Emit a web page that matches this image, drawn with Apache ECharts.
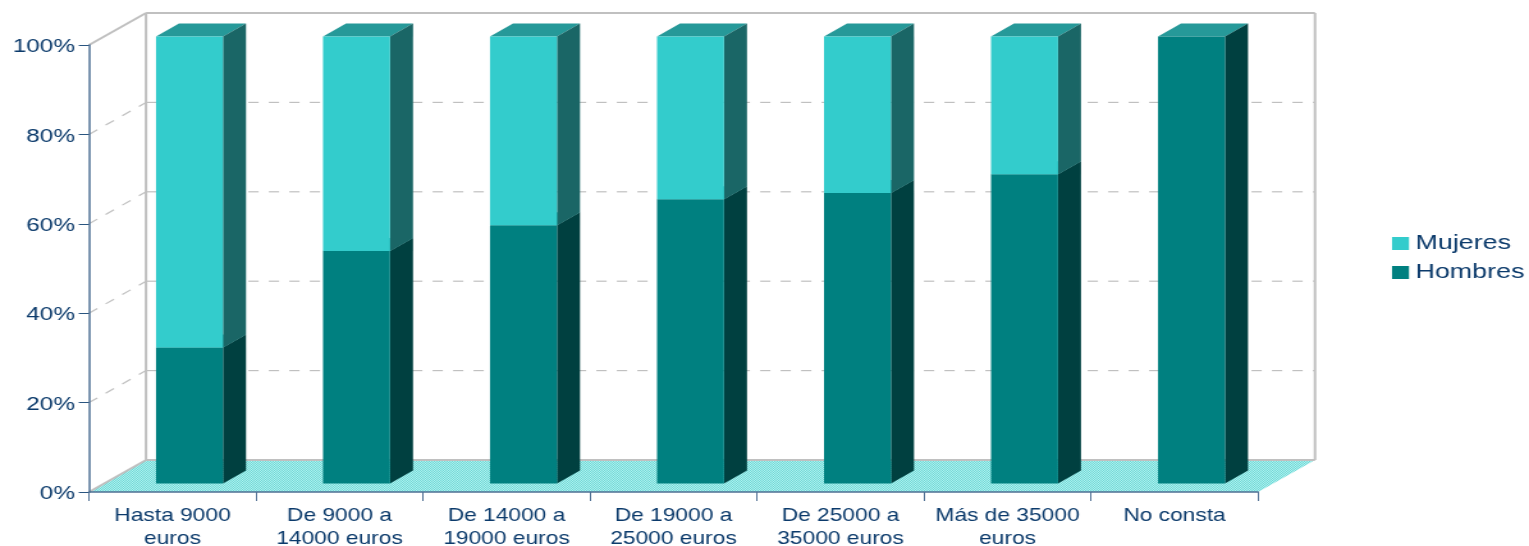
<!DOCTYPE html>
<html>
<head>
<meta charset="utf-8">
<title>Hombres y mujeres por tramo salarial</title>
<style>
    html, body { margin: 0; padding: 0; background: #fff; overflow: hidden; }
    /* the reference is a chart stretched sideways, text included */
    #chart { width: 1195px; height: 546px; transform-origin: 0 0; transform: scaleX(1.27950); }
</style>
<script src="https://cdn.jsdelivr.net/npm/echarts@6/dist/echarts.min.js"></script>
</head>
<body>
<div id="chart"></div>
<script>
    const categories = ['Hasta 9000\neuros', 'De 9000 a\n14000 euros', 'De 14000 a\n19000 euros', 'De 19000 a\n25000 euros', 'De 25000 a\n35000 euros', 'Más de 35000\neuros', 'No consta'];
    const hombres = [30.4, 52, 57.8, 63.6, 65, 69.2, 100];
    const mujeres = [69.6, 48, 42.2, 36.4, 35, 30.8, 0];
    const wallTicks = [0, 20, 40, 60, 80, 100];

    const sx = 1529 / 1195;
    const textColor = '#0b3a6b';
    const axisColor = '#4f7094';
    const tickColor = '#2a5580';
    const wallColor = '#c0c0c0';

    // offsets are in screen pixels, so they are divided by the stretch
    const wallDx = 57 / sx, wallDy = -32;
    const barDx = 17 / sx, barDy = -8.5;
    const depthDx = 23 / sx, depthDy = -13;
    const barWidth = 67 / sx;

    function floorPattern() {
        let c = document.createElement('canvas');
        c.width = 2;
        c.height = 2;
        let ctx = c.getContext('2d');
        ctx.fillStyle = '#b4f0ee';
        ctx.fillRect(0, 0, 2, 2);
        ctx.fillStyle = '#6cdad8';
        ctx.fillRect(0, 0, 1, 1);
        ctx.fillRect(1, 1, 1, 1);
        return {image: c, repeat: 'repeat'};
    }
    const floorFill = floorPattern();

    function renderWall(params, api) {
        let v = api.value(0);
        let band = api.size([1, 0])[0];
        let left = api.coord([0, v])[0] - band / 2;
        let right = api.coord([categories.length - 1, v])[0] + band / 2;
        let y = api.coord([0, v])[1];
        let solid = v === 0 || v === 100;
        let lineStyle = solid
            ? {stroke: wallColor, lineWidth: 2}
            : {stroke: wallColor, lineWidth: 1.2, lineDash: [8, 8]};
        let children = [];
        if (v === 0) {
            children.push({
                type: 'polygon',
                shape: {points: [[left, y], [left + wallDx, y + wallDy], [right + wallDx, y + wallDy], [right, y]]},
                style: {fill: floorFill}
            });
        }
        children.push({
            type: 'line',
            shape: {x1: left, y1: y, x2: left + wallDx, y2: y + wallDy},
            style: lineStyle
        });
        children.push({
            type: 'line',
            shape: {x1: left + wallDx, y1: y + wallDy, x2: right + wallDx, y2: y + wallDy},
            style: lineStyle
        });
        if (v === 100) {
            let bottom = api.coord([0, 0])[1];
            children.push({
                type: 'line',
                shape: {x1: left + wallDx, y1: y + wallDy, x2: left + wallDx, y2: bottom + wallDy},
                style: lineStyle
            });
            children.push({
                type: 'line',
                shape: {x1: right + wallDx, y1: y + wallDy, x2: right + wallDx, y2: bottom + wallDy},
                style: lineStyle
            });
        }
        return {type: 'group', children: children};
    }

    function barRenderer(front, side, top) {
        return function (params, api) {
            let i = api.value(0);
            let from = api.value(1);
            let to = api.value(2);
            if (to <= from) {
                return null;
            }
            let p0 = api.coord([i, from]);
            let p1 = api.coord([i, to]);
            let x = p0[0] + barDx - barWidth / 2;
            let x2 = x + barWidth;
            let y0 = p0[1] + barDy;
            let y1 = p1[1] + barDy;
            return {
                type: 'group',
                children: [
                    {
                        type: 'polygon',
                        shape: {points: [[x, y1], [x + depthDx, y1 + depthDy], [x2 + depthDx, y1 + depthDy], [x2, y1]]},
                        style: {fill: top}
                    },
                    {
                        type: 'polygon',
                        shape: {points: [[x2, y0], [x2 + depthDx, y0 + depthDy], [x2 + depthDx, y1 + depthDy], [x2, y1]]},
                        style: {fill: side}
                    },
                    {
                        type: 'rect',
                        shape: {x: x, y: y1, width: barWidth, height: y0 - y1},
                        style: {fill: front}
                    }
                ]
            };
        };
    }

    let hombresData = hombres.map((v, i) => [i, 0, v]);
    let mujeresData = mujeres.map((v, i) => [i, hombres[i], hombres[i] + v]);

    let myChart = echarts.init(document.getElementById('chart'));
    let option = {
        animation: false,
        backgroundColor: '#fff',
        textStyle: {fontFamily: '"Liberation Sans", Arial, sans-serif'},
        grid: {left: 89 / sx, width: 1169 / sx, top: 45, height: 447, outerBoundsMode: 'none'},
        legend: {
            orient: 'vertical',
            left: 1392 / sx,
            top: 233,
            padding: 0,
            itemWidth: 17 / sx,
            itemHeight: 13,
            itemGap: 8,
            icon: 'rect',
            data: ['Mujeres', 'Hombres'],
            textStyle: {color: textColor, fontSize: 21}
        },
        xAxis: {
            type: 'category',
            data: categories,
            z: 2,
            axisLine: {lineStyle: {color: axisColor, width: 1.5}},
            axisTick: {show: true, length: 9, alignWithLabel: false, lineStyle: {color: axisColor, width: 1}},
            axisLabel: {color: textColor, fontSize: 17.8, lineHeight: 23, margin: 13, interval: 0}
        },
        yAxis: {
            type: 'value',
            min: 0,
            max: 100,
            interval: 20,
            z: 2,
            splitLine: {show: false},
            axisLine: {show: true, lineStyle: {color: axisColor, width: 1.5}},
            axisTick: {show: true, length: 8, lineStyle: {color: tickColor, width: 1}},
            axisLabel: {
                margin: 11,
                formatter: '{t|{value}%}',
                rich: {t: {color: textColor, fontSize: 19, padding: [4, 0, 0, 0]}}
            }
        },
        series: [
            {
                name: 'Pared',
                type: 'custom',
                z: 1,
                silent: true,
                renderItem: renderWall,
                encode: {x: -1, y: 0},
                data: wallTicks.map(v => [v])
            },
            {
                name: 'Hombres',
                type: 'custom',
                z: 3,
                itemStyle: {color: '#008080'},
                renderItem: barRenderer('#008080', '#004040', '#269999'),
                encode: {x: 0, y: 2},
                data: hombresData
            },
            {
                name: 'Mujeres',
                type: 'custom',
                z: 3,
                itemStyle: {color: '#33cccc'},
                renderItem: barRenderer('#33cccc', '#1a6666', '#269999'),
                encode: {x: 0, y: 2},
                data: mujeresData
            }
        ]
    };
    myChart.setOption(option);
</script>
</body>
</html>
